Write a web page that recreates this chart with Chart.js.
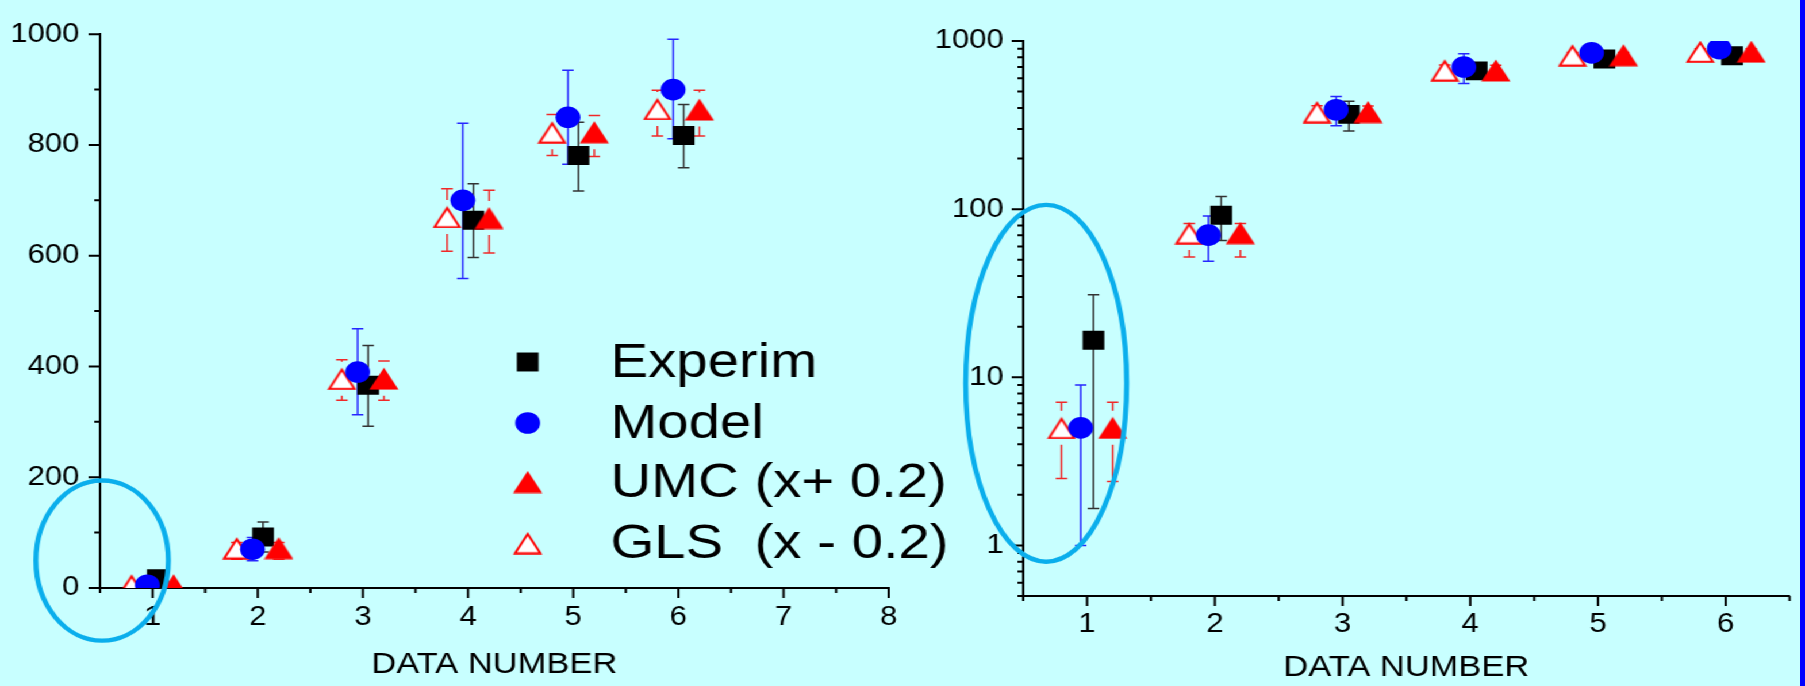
<!DOCTYPE html>
<html lang="en">
<head>
<meta charset="UTF-8">
<title>Experim / Model / UMC / GLS vs data number</title>
<script src="https://cdn.jsdelivr.net/npm/chart.js"></script>
<style>
  html, body { margin: 0; padding: 0; background: #c8ffff; overflow: hidden; }
  /* the original figure is stretched a bit horizontally (round dots are wider than tall) */
  #page { position: relative; width: 1570px; height: 686px; transform: scaleX(1.14968); transform-origin: 0 0; }
  #left { position: absolute; left: 0; top: 0; }
  #right { position: absolute; left: 800px; top: 0; }
  #edge { position: absolute; left: 1800px; top: 0; width: 5px; height: 686px; background: #0000ff; }
</style>
</head>
<body>
<div id="page">
  <canvas id="left" width="840" height="686"></canvas>
  <canvas id="right" width="770" height="686"></canvas>
</div>
<div id="edge"></div>
<script>
// values
const dataNumber = [1, 2, 3, 4, 5, 6];

const experim   = [16.6, 92, 366, 664, 781, 817];
const experimLo = [1.66, 65, 292, 597, 717, 759];
const experimHi = [31, 119, 438, 730, 841, 873];

const model   = [5.0, 70, 390, 700, 850, 900];
const modelLo = [1.0, 49, 313, 559, 765, 811];
const modelHi = [9.0, 91, 468, 839, 935, 991];

const umc   = [5.0, 72, 378, 668, 823, 864];
const umcLo = [2.4, 52, 339, 605, 779, 816];
const umcHi = [7.1, 82, 410, 718, 853, 899];

const gls   = [5.0, 72, 378, 670, 823, 865];
const glsLo = [2.5, 52, 339, 608, 781, 816];
const glsHi = [7.1, 82, 412, 721, 855, 899];

// x offsets so the symbols don't hide each other
const experimShift = 0.05, modelShift = -0.05, umcShift = 0.2, glsShift = -0.2;

// axis ticks
const linXTicks = [1, 2, 3, 4, 5, 6, 7, 8];
const linXMinor = [0.5, 1.5, 2.5, 3.5, 4.5, 5.5, 6.5, 7.5];
const linYTicks = [0, 200, 400, 600, 800, 1000];
const linYMinor = [100, 300, 500, 700, 900];
const logXTicks = [1, 2, 3, 4, 5, 6];
const logXMinor = [0.5, 1.5, 2.5, 3.5, 4.5, 5.5, 6.5];
const logYTicks = [1, 10, 100, 1000];
const logYMinor = [0.5, 0.6, 0.7, 0.8, 0.9, 2, 3, 4, 5, 6, 7, 8, 9,
                   20, 30, 40, 50, 60, 70, 80, 90, 200, 300, 400, 500, 600, 700, 800, 900];

// the hand drawn ellipses around data number 1 (data units)
const linCircle = { xMin: -0.11, xMax: 1.15, yMin: -95, yMax: 194 };
const logCircle = { xMin: 0.05, xMax: 1.31, yMin: 0.8, yMax: 106 };

Chart.defaults.font.family = "'Liberation Sans', Arial, sans-serif";
Chart.defaults.color = '#000';

function triangle(fill, stroke) {
  const c = document.createElement('canvas');
  c.width = 26; c.height = 23;
  const g = c.getContext('2d');
  g.beginPath();
  if (stroke) { g.moveTo(13, 2.6); g.lineTo(24, 21.8); g.lineTo(2, 21.8); }
  else { g.moveTo(13, 0.5); g.lineTo(25.7, 22.5); g.lineTo(0.3, 22.5); }
  g.closePath();
  g.fillStyle = fill;
  g.fill();
  if (stroke) { g.strokeStyle = stroke; g.lineWidth = 2; g.stroke(); }
  return c;
}
const umcTri = triangle('#ff0000');
const glsTri = triangle('#ffffff', '#ff0000');

function points(vals, lo, hi, shift) {
  return dataNumber.map((n, i) => ({ x: n + shift, y: vals[i], lo: lo[i], hi: hi[i] }));
}

function makeDatasets() {
  return [
    { label: 'UMC (x+ 0.2)', data: points(umc, umcLo, umcHi, umcShift), pointStyle: umcTri,
      pointRadius: 12, order: 0, errColor: '#f02828', errGap: 17 },
    { label: 'Model', data: points(model, modelLo, modelHi, modelShift), pointStyle: 'circle',
      pointRadius: 10.8, pointBackgroundColor: '#0000ff', order: 1, errColor: '#2626ff', errGap: 0 },
    { label: 'Experim', data: points(experim, experimLo, experimHi, experimShift), pointStyle: 'rect',
      pointRadius: 13.4, pointBackgroundColor: '#000000', order: 2, errColor: '#333333', errGap: 0 },
    { label: 'GLS  (x - 0.2)', data: points(gls, glsLo, glsHi, glsShift), pointStyle: glsTri,
      pointRadius: 12, order: 3, errColor: '#f02828', errGap: 17 }
  ].map(ds => Object.assign(ds, { showLine: false, clip: 0, pointBorderWidth: 0 }));
}

// vertical error bars with caps, drawn under the symbols
const errorBars = {
  id: 'errorBars',
  beforeDatasetsDraw(chart) {
    const { ctx, chartArea: a, scales: { x, y } } = chart;
    ctx.save();
    ctx.beginPath();
    ctx.rect(a.left, a.top, a.right - a.left, a.bottom - a.top);
    ctx.clip();
    ctx.lineWidth = 1.5;
    chart.data.datasets.forEach(ds => {
      ctx.strokeStyle = ds.errColor;
      ds.data.forEach(p => {
        const px = x.getPixelForValue(p.x);
        const py = y.getPixelForValue(p.y);
        const top = y.getPixelForValue(p.hi);
        const bot = y.getPixelForValue(p.lo);
        ctx.beginPath();
        ctx.moveTo(px, top); ctx.lineTo(px, Math.max(top, py - ds.errGap));
        ctx.moveTo(px, Math.min(bot, py + ds.errGap)); ctx.lineTo(px, bot);
        ctx.moveTo(px - 5, top); ctx.lineTo(px + 5, top);
        ctx.moveTo(px - 5, bot); ctx.lineTo(px + 5, bot);
        ctx.stroke();
      });
    });
    ctx.restore();
  }
};

// outward major / minor tick marks like the original plot
const axisTicks = {
  id: 'axisTicks',
  afterDraw(chart, args, o) {
    const { ctx, chartArea: a, scales: { x, y } } = chart;
    ctx.save();
    ctx.strokeStyle = '#000';
    ctx.lineWidth = 2;
    ctx.beginPath();
    o.xMajor.forEach(v => { const p = x.getPixelForValue(v); ctx.moveTo(p, a.bottom); ctx.lineTo(p, a.bottom + 10); });
    o.xMinor.forEach(v => { const p = x.getPixelForValue(v); ctx.moveTo(p, a.bottom); ctx.lineTo(p, a.bottom + 5); });
    o.yMajor.forEach(v => { const p = y.getPixelForValue(v); ctx.moveTo(a.left, p); ctx.lineTo(a.left - 10, p); });
    o.yMinor.forEach(v => { const p = y.getPixelForValue(v); ctx.moveTo(a.left, p); ctx.lineTo(a.left - 5, p); });
    ctx.stroke();
    ctx.restore();
  }
};

const highlight = {
  id: 'highlight',
  afterDraw(chart, args, o) {
    const { ctx, scales: { x, y } } = chart;
    const x0 = x.getPixelForValue(o.xMin), x1 = x.getPixelForValue(o.xMax);
    const y0 = y.getPixelForValue(o.yMax), y1 = y.getPixelForValue(o.yMin);
    ctx.save();
    ctx.strokeStyle = '#0aaeec';
    ctx.lineWidth = 4.4;
    ctx.beginPath();
    ctx.ellipse((x0 + x1) / 2, (y0 + y1) / 2, (x1 - x0) / 2, (y1 - y0) / 2, 0, 0, Math.PI * 2);
    ctx.stroke();
    ctx.restore();
  }
};

function drawMarker(ctx, ds, x, y) {
  const st = ds.pointStyle;
  if (typeof st !== 'string') {
    ctx.drawImage(st, x - st.width / 2, y - st.height / 2);
    return;
  }
  ctx.fillStyle = ds.pointBackgroundColor;
  if (st === 'rect') {
    const h = ds.pointRadius * Math.SQRT1_2;
    ctx.fillRect(x - h, y - h, 2 * h, 2 * h);
  } else {
    ctx.beginPath();
    ctx.arc(x, y, ds.pointRadius, 0, Math.PI * 2);
    ctx.fill();
  }
}

// legend sitting inside the left panel
const plotLegend = {
  id: 'plotLegend',
  afterDraw(chart) {
    const { ctx, chartArea: a } = chart;
    const rows = [['Experim', 362], ['Model', 423], ['UMC (x+ 0.2)', 482], ['GLS  (x - 0.2)', 543]];
    ctx.save();
    ctx.font = "49px 'Liberation Sans', Arial, sans-serif";
    ctx.fillStyle = '#000';
    ctx.textBaseline = 'middle';
    rows.forEach(([label, yy]) => {
      const ds = chart.data.datasets.find(d => d.label === label);
      drawMarker(ctx, ds, a.left + 372, yy);
      ctx.fillStyle = '#000';
      ctx.fillText(label, a.left + 444, yy + 1.5);
    });
    ctx.restore();
  }
};

function axis(o) {
  return {
    type: o.type || 'linear',
    min: o.min,
    max: o.max,
    afterBuildTicks: s => { s.ticks = o.ticks.map(v => ({ value: v })); },
    afterFit: o.fit,
    ticks: { font: { size: 27 }, color: '#000', padding: o.pad, maxRotation: 0, autoSkip: false,
             callback: v => String(v) },
    grid: { display: false, drawTicks: false },
    border: { display: true, color: '#000', width: 2 },
    title: o.title ? { display: true, text: o.title, color: '#000', font: { size: 30 },
                       padding: { top: 0, bottom: o.titlePad } } : { display: false }
  };
}

new Chart(document.getElementById('left'), {
  type: 'scatter',
  data: { datasets: makeDatasets() },
  options: {
    responsive: false,
    animation: false,
    events: [],
    layout: { padding: { top: 22, right: 67, bottom: 0, left: 0 } },
    plugins: {
      legend: { display: false },
      tooltip: { enabled: false },
      axisTicks: { xMajor: linXTicks, xMinor: linXMinor, yMajor: linYTicks, yMinor: linYMinor },
      highlight: linCircle
    },
    scales: {
      x: axis({ min: 0.5, max: 8, ticks: linXTicks, pad: 13.8, title: 'DATA NUMBER', titlePad: 3,
                fit: s => { s.height = 98; } }),
      y: axis({ min: 0, max: 1000, ticks: linYTicks, pad: 18, fit: s => { s.width = 87; } })
    }
  },
  plugins: [errorBars, axisTicks, plotLegend, highlight]
});

new Chart(document.getElementById('right'), {
  type: 'scatter',
  data: { datasets: makeDatasets() },
  options: {
    responsive: false,
    animation: false,
    events: [],
    layout: { padding: { top: 41, right: 1, bottom: 0, left: 0 } },
    plugins: {
      legend: { display: false },
      tooltip: { enabled: false },
      axisTicks: { xMajor: logXTicks, xMinor: logXMinor, yMajor: logYTicks, yMinor: logYMinor },
      highlight: logCircle
    },
    scales: {
      x: axis({ min: 0.5, max: 6.5, ticks: logXTicks, pad: 12.8, title: 'DATA NUMBER', titlePad: 0,
                fit: s => { s.height = 90; } }),
      y: axis({ type: 'logarithmic', min: 0.5, max: 1000, ticks: logYTicks, pad: 17,
                fit: s => { s.width = 90; } })
    }
  },
  plugins: [errorBars, axisTicks, highlight]
});
</script>
</body>
</html>
